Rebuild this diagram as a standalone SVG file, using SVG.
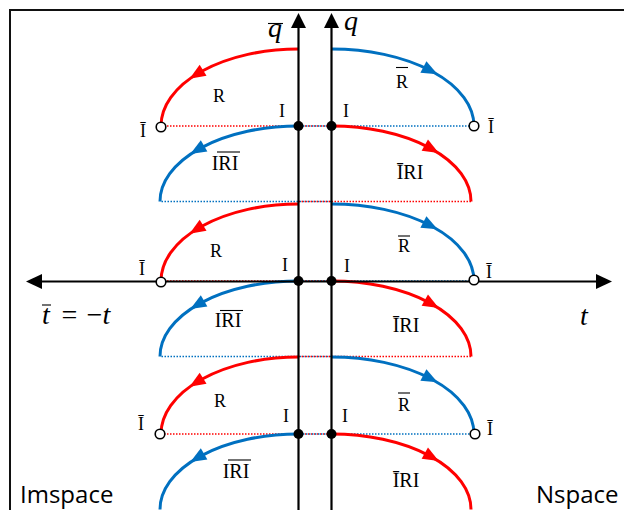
<svg xmlns="http://www.w3.org/2000/svg" width="624" height="510" viewBox="0 0 624 510">
<style>
.arc{fill:none;stroke-width:3}
.red{stroke:#FF0000}
.blue{stroke:#0070C0}
.dr{fill:none;stroke:#FF0000;stroke-width:1.5;stroke-dasharray:1.5 1.5}
.db{fill:none;stroke:#0070C0;stroke-width:1.5;stroke-dasharray:1.5 1.5;stroke-dashoffset:1.5}
.ax{stroke:#000;stroke-width:2.2;fill:none}
.dot{fill:#000}
.hole{fill:#fff;stroke:#000;stroke-width:1.6}
.ahr{fill:#FF0000}
.ahb{fill:#0070C0}
.lbl{font-family:"Liberation Serif","Times New Roman",serif;font-size:18px;fill:#000;text-anchor:middle}
.big{font-family:"Liberation Serif","Times New Roman",serif;font-size:20px;fill:#000;text-anchor:middle}
.it{font-family:"Liberation Serif","DejaVu Serif","Times New Roman",serif;font-style:italic;font-size:28px;fill:#000}
.sans{font-family:"Open Sans","Noto Sans","Liberation Sans",sans-serif;font-size:24px;fill:#000}
.ov{stroke:#000;stroke-width:1.1}
</style>
<defs>
<path id="ah" d="M8,0 L-8,-6.5 L-8,6.5 Z"/>
</defs>
<g id="frame">
<path d="M10,510 V10 H624" fill="none" stroke="#111" stroke-width="2"/>
</g>
<g id="connectors">
<g id="dotted">
<line class="dr" x1="161" y1="126" x2="331.5" y2="126"/>
<line class="db" x1="298.5" y1="126" x2="474" y2="126"/>
<line class="db" x1="160" y1="201.5" x2="331.5" y2="201.5"/>
<line class="dr" x1="298.5" y1="201.5" x2="471" y2="201.5"/>
<line class="dr" x1="161" y1="281" x2="331.5" y2="281"/>
<line class="db" x1="298.5" y1="281" x2="474" y2="281"/>
<line class="db" x1="160" y1="356.5" x2="331.5" y2="356.5"/>
<line class="dr" x1="298.5" y1="356.5" x2="471" y2="356.5"/>
<line class="dr" x1="161" y1="434" x2="331.5" y2="434"/>
<line class="db" x1="298.5" y1="434" x2="474" y2="434"/>
</g>
<g id="arcs">
<path class="arc red" d="M298.5,49 A137.5,77 0 0 0 161,126"/>
<path class="arc blue" d="M331.5,49 A142.5,77 0 0 1 474,126"/>
<path class="arc blue" d="M298.5,126 A138.5,75.5 0 0 0 160,201.5"/>
<path class="arc red" d="M331.5,126 A139.5,75.5 0 0 1 471,201.5"/>
<path class="arc red" d="M298.5,204 A137.5,77 0 0 0 161,281"/>
<path class="arc blue" d="M331.5,204 A142.5,77 0 0 1 474,281"/>
<path class="arc blue" d="M298.5,281 A138.5,75.5 0 0 0 160,356.5"/>
<path class="arc red" d="M331.5,281 A139.5,75.5 0 0 1 471,356.5"/>
<path class="arc red" d="M298.5,357 A137.5,77 0 0 0 161,434"/>
<path class="arc blue" d="M331.5,357 A142.5,77 0 0 1 474,434"/>
<path class="arc blue" d="M298.5,434 A138.5,75.5 0 0 0 160,509.5"/>
<path class="arc red" d="M331.5,434 A139.5,75.5 0 0 1 471,509.5"/>
</g>
<g id="arrowheads">
<use href="#ah" class="ahr" transform="translate(196.3,74.5) rotate(148.1)"/>
<use href="#ah" class="ahb" transform="translate(430.5,70.6) rotate(27.6)"/>
<use href="#ah" class="ahb" transform="translate(197.2,150) rotate(149.7)"/>
<use href="#ah" class="ahr" transform="translate(431.8,149) rotate(29.2)"/>
<use href="#ah" class="ahr" transform="translate(196.3,229.5) rotate(148.1)"/>
<use href="#ah" class="ahb" transform="translate(430.5,225.6) rotate(27.6)"/>
<use href="#ah" class="ahb" transform="translate(197.2,305) rotate(149.7)"/>
<use href="#ah" class="ahr" transform="translate(431.8,304) rotate(29.2)"/>
<use href="#ah" class="ahr" transform="translate(196.3,382.5) rotate(148.1)"/>
<use href="#ah" class="ahb" transform="translate(430.5,378.6) rotate(27.6)"/>
<use href="#ah" class="ahb" transform="translate(197.2,458) rotate(149.7)"/>
<use href="#ah" class="ahr" transform="translate(431.8,457) rotate(29.2)"/>
</g>
</g>
<g id="axes">
<line class="ax" x1="298.5" y1="27" x2="298.5" y2="510"/>
<polygon points="298.5,13 291,28 306,28" fill="#000"/>
<line class="ax" x1="331.5" y1="27" x2="331.5" y2="510"/>
<polygon points="331.5,13 324,28 339,28" fill="#000"/>
<line class="ax" x1="40" y1="281.5" x2="598" y2="281.5"/>
<polygon points="26,281.5 42,274 42,289" fill="#000"/>
<polygon points="612,281.5 596,274 596,289" fill="#000"/>
</g>
<g id="points">
<circle class="dot" cx="298.5" cy="126" r="5"/>
<circle class="dot" cx="331.5" cy="126" r="5"/>
<circle class="dot" cx="298.5" cy="281" r="5"/>
<circle class="dot" cx="331.5" cy="281" r="5"/>
<circle class="dot" cx="298.5" cy="434" r="5"/>
<circle class="dot" cx="331.5" cy="434" r="5"/>
<circle class="hole" cx="161" cy="127" r="4.8"/>
<circle class="hole" cx="474" cy="126" r="4.8"/>
<circle class="hole" cx="161" cy="282" r="4.8"/>
<circle class="hole" cx="474" cy="280" r="4.8"/>
<circle class="hole" cx="160" cy="434" r="4.8"/>
<circle class="hole" cx="475" cy="434" r="4.8"/>
</g>
<g id="labels">
<text class="it" x="275" y="37" text-anchor="middle">q</text>
<line class="ov" x1="268" y1="23.5" x2="283" y2="23.5"/>
<text class="it" x="344" y="30">q</text>
<text class="it" x="42" y="324">t<tspan dx="10">=</tspan><tspan dx="6">−</tspan><tspan dx="-1">t</tspan></text>
<line class="ov" x1="42" y1="305" x2="51" y2="305"/>
<text class="it" x="580" y="325">t</text>
<text class="sans" x="20" y="503">Imspace</text>
<text class="sans" x="536" y="503">Nspace</text>

<text class="lbl" x="219" y="102">R</text>
<text class="lbl" x="402" y="88">R</text>
<line class="ov" x1="396" y1="67.5" x2="408" y2="67.5"/>
<text class="lbl" x="143" y="137">Ī</text>
<text class="lbl" x="491" y="133">Ī</text>
<text class="lbl" x="282" y="117">I</text>
<text class="lbl" x="346" y="117">I</text>
<text class="big" x="225" y="170">IRI</text>
<line class="ov" x1="217" y1="152" x2="240" y2="152"/>
<text class="big" x="410" y="179">ĪRI</text>

<text class="lbl" x="216" y="257">R</text>
<text class="lbl" x="404" y="252">R</text>
<line class="ov" x1="398" y1="236" x2="410" y2="236"/>
<text class="lbl" x="142" y="275">Ī</text>
<text class="lbl" x="489" y="278">Ī</text>
<text class="lbl" x="285" y="271">I</text>
<text class="lbl" x="347" y="272">I</text>
<text class="big" x="228" y="327">IRI</text>
<line class="ov" x1="220" y1="310.5" x2="243" y2="310.5"/>
<text class="big" x="406" y="332">ĪRI</text>

<text class="lbl" x="220" y="407">R</text>
<text class="lbl" x="404" y="411">R</text>
<line class="ov" x1="398" y1="393" x2="410" y2="393"/>
<text class="lbl" x="141" y="430">Ī</text>
<text class="lbl" x="490" y="435">Ī</text>
<text class="lbl" x="286" y="422">I</text>
<text class="lbl" x="345" y="422">I</text>
<text class="big" x="236" y="478">IRI</text>
<line class="ov" x1="228" y1="460" x2="251" y2="460"/>
<text class="big" x="406" y="487">ĪRI</text>
</g>
</svg>
